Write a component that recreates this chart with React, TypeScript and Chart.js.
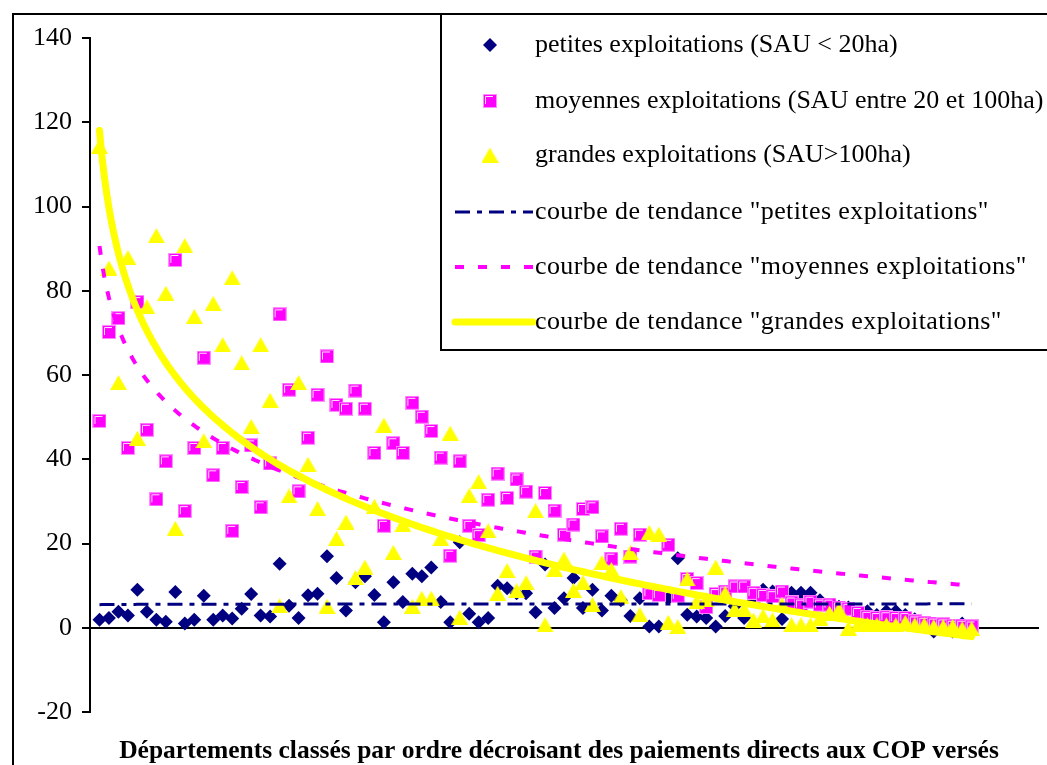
import React, { useEffect, useRef } from 'react';
import { Chart, registerables } from 'chart.js';

Chart.register(...registerables);

// Values per department (rank 1..93)
const petites = [
  1.9, 2.3, 3.8, 2.9, 9.0, 3.8, 1.9, 1.4, 8.5, 1.0,
  1.9, 7.6, 1.9, 2.9, 2.2, 4.5, 8.0, 2.9, 2.7, 15.2,
  5.2, 2.3, 7.7, 8.1, 17.0, 11.8, 4.1, 10.8, 12.2, 7.8,
  1.3, 10.8, 6.1, 12.8, 12.2, 14.3, 6.1, 1.3, 20.3, 3.3,
  1.3, 2.3, 10.0, 9.4, 8.2, 8.2, 3.7, 15.0, 4.7, 7.0,
  11.8, 4.7, 9.0, 4.1, 7.6, 6.5, 2.8, 7.0, 0.3, 0.3,
  7.0, 16.5, 3.1, 2.7, 2.3, 0.3, 2.8, 5.1, 2.3, 6.5,
  9.0, 8.6, 2.1, 8.3, 8.3, 8.3, 6.5, 4.5, 5.0, 4.8,
  3.0, 3.9, 3.0, 3.9, 3.9, 3.0, 2.0, 1.0, -0.9, 0.5,
  -0.9, 1.0, 0.5,
];

const moyennes = [
  49.1, 70.2, 73.5, 42.7, 77.3, 47.0, 30.5, 39.5, 87.3, 27.7,
  42.7, 64.1, 36.2, 42.7, 23.0, 33.4, 43.3, 28.6, 39.0, 74.4,
  56.5, 32.4, 45.1, 55.3, 64.4, 52.9, 52.0, 56.3, 52.0, 41.5,
  24.2, 43.8, 41.5, 53.4, 50.1, 46.7, 40.4, 17.1, 39.5, 24.2,
  22.0, 30.4, 36.6, 30.8, 35.2, 32.3, 16.9, 32.0, 27.8, 22.1,
  24.5, 28.2, 28.6, 21.7, 16.4, 23.5, 16.9, 22.1, 8.2, 7.8,
  19.7, 7.6, 11.6, 10.6, 4.9, 8.0, 8.6, 9.8, 9.8, 8.3,
  7.8, 7.5, 8.6, 6.0, 5.5, 6.2, 5.5, 5.5, 4.8, 4.5,
  3.5, 2.6, 2.3, 2.5, 2.3, 2.3, 1.5, 1.2, 1.0, 0.8,
  0.5, 0.5, 0.3,
];

const grandes = [
  114.3, 85.4, 58.2, 87.9, 45.0, 76.2, 93.1, 79.4, 23.6, 90.7,
  73.9, 44.4, 77.0, 67.2, 83.1, 62.9, 47.8, 67.2, 54.0, 5.2,
  31.3, 58.2, 38.8, 28.3, 5.1, 21.2, 25.1, 11.9, 14.4, 28.8,
  48.1, 17.9, 24.5, 5.1, 7.0, 7.0, 21.2, 46.2, 2.5, 31.4,
  34.7, 23.0, 8.2, 13.6, 8.8, 10.7, 27.8, 0.7, 13.9, 16.3,
  8.9, 10.8, 5.5, 15.5, 13.8, 7.4, 17.9, 3.1, 22.6, 22.2,
  1.3, 0.3, 11.6, 6.2, 6.6, 14.4, 8.2, 4.4, 4.4, 1.8,
  2.8, 1.9, 5.5, 0.7, 0.7, 0.7, 2.3, 3.5, 4.3, -0.1,
  0.7, 0.7, 0.7, 0.7, 0.7, 1.3, 0.7, 0.7, 0.3, 0.3,
  0.3, -0.2, -0.2,
];

const legendLabels = [
  'petites exploitations (SAU < 20ha)',
  'moyennes exploitations (SAU entre 20 et 100ha)',
  'grandes exploitations (SAU>100ha)',
  'courbe de tendance "petites exploitations"',
  'courbe de tendance "moyennes exploitations"',
  'courbe de tendance "grandes exploitations"',
];

const xTitle = 'Départements classés par ordre décroisant des paiements directs aux COP versés';

const Y_MIN = -20;
const Y_MAX = 140;
const Y_STEP = 20;

const NAVY = '#000080';
const MAGENTA = '#FF00FF';
const YELLOW = '#FFFF00';
const SERIF = '"Liberation Serif", "Times New Roman", serif';

const toPoints = (vals: number[]) => vals.map((v, i) => ({ x: i + 1, y: v }));

// Excel-like logarithmic trend line (least squares y = a ln x + b)
function logTrend(vals: number[]) {
  const n = vals.length;
  let sx = 0, sy = 0, sxx = 0, sxy = 0;
  vals.forEach((v, i) => {
    const lx = Math.log(i + 1);
    sx += lx; sy += v; sxx += lx * lx; sxy += lx * v;
  });
  const a = (n * sxy - sx * sy) / (n * sxx - sx * sx);
  const b = (sy - a * sx) / n;
  const pts: { x: number; y: number }[] = [];
  for (let k = 0; k <= (n - 1) * 4; k++) {
    const x = 1 + k / 4;
    pts.push({ x, y: a * Math.log(x) + b });
  }
  return pts;
}

const SQ = 14;
const TRI_W = 17;
const TRI_H = 15;
const DIA_R = 7;

function makeSquare() {
  const c = document.createElement('canvas');
  c.width = SQ; c.height = SQ;
  const g = c.getContext('2d')!;
  g.fillStyle = MAGENTA;
  g.fillRect(0, 0, SQ, SQ);
  g.strokeStyle = '#FF8CFF';
  g.lineWidth = 1;
  g.strokeRect(0.5, 0.5, SQ - 1, SQ - 1);
  g.strokeStyle = '#FFE6FF';
  g.beginPath();
  g.moveTo(2.5, SQ - 4);
  g.lineTo(2.5, 2.5);
  g.lineTo(SQ - 4, 2.5);
  g.stroke();
  return c;
}

function makeTriangle() {
  const c = document.createElement('canvas');
  c.width = TRI_W; c.height = TRI_H;
  const g = c.getContext('2d')!;
  g.fillStyle = YELLOW;
  g.beginPath();
  g.moveTo(0, TRI_H);
  g.lineTo(TRI_W / 2, 0);
  g.lineTo(TRI_W, TRI_H);
  g.closePath();
  g.fill();
  return c;
}

export default function App() {
  const ref = useRef<HTMLCanvasElement | null>(null);

  useEffect(() => {
    if (!ref.current) return;
    const sq = makeSquare();
    const tri = makeTriangle();

    const deco = {
      id: 'deco',
      beforeDraw(chart: any) {
        const ctx = chart.ctx;
        ctx.save();
        ctx.fillStyle = '#fff';
        ctx.fillRect(0, 0, chart.width, chart.height);
        ctx.restore();
      },
      afterDraw(chart: any) {
        const ctx = chart.ctx as CanvasRenderingContext2D;
        ctx.save();
        ctx.strokeStyle = '#000';
        ctx.lineWidth = 2;
        ctx.strokeRect(13, 14, 1200, 900);
        // legend box
        ctx.fillStyle = '#fff';
        ctx.fillRect(441, 14, 800, 336);
        ctx.strokeRect(441, 14, 800, 336);

        const rows = [45, 101, 155, 212, 267, 322];
        const mx = 490;
        // diamond
        ctx.fillStyle = NAVY;
        ctx.beginPath();
        ctx.moveTo(mx - DIA_R, rows[0]);
        ctx.lineTo(mx, rows[0] - DIA_R);
        ctx.lineTo(mx + DIA_R, rows[0]);
        ctx.lineTo(mx, rows[0] + DIA_R);
        ctx.closePath();
        ctx.fill();
        ctx.drawImage(sq, mx - SQ / 2, rows[1] - SQ / 2);
        ctx.drawImage(tri, mx - TRI_W / 2, rows[2] - TRI_H / 2);
        // trend lines
        const lines = [
          { c: NAVY, w: 3, d: [15, 7, 5, 7], cap: 'butt' },
          { c: MAGENTA, w: 4, d: [9, 14], cap: 'butt' },
          { c: YELLOW, w: 7, d: [], cap: 'round' },
        ];
        lines.forEach((l, k) => {
          ctx.strokeStyle = l.c;
          ctx.lineWidth = l.w;
          ctx.setLineDash(l.d);
          ctx.lineCap = l.cap as CanvasLineCap;
          ctx.beginPath();
          ctx.moveTo(455, rows[3 + k]);
          ctx.lineTo(533, rows[3 + k]);
          ctx.stroke();
        });
        ctx.setLineDash([]);
        ctx.fillStyle = '#000';
        ctx.font = `26px ${SERIF}`;
        ctx.textAlign = 'left';
        ctx.textBaseline = 'middle';
        legendLabels.forEach((t, k) => {
          (ctx as any).letterSpacing = k >= 3 ? '0.4px' : '0px';
          ctx.fillText(t, 535, rows[k]);
        });
        (ctx as any).letterSpacing = '0px';

        // x axis title
        ctx.font = `bold 25.5px ${SERIF}`;
        ctx.textAlign = 'center';
        ctx.textBaseline = 'alphabetic';
        ctx.fillText(xTitle, 559, 758);
        ctx.restore();
      },
    };

    const chart = new Chart(ref.current, {
      type: 'scatter',
      data: {
        datasets: [
          {
            label: 'tendance grandes',
            data: logTrend(grandes),
            showLine: true,
            borderColor: YELLOW,
            borderWidth: 7,
            borderCapStyle: 'round',
            pointRadius: 0,
            order: 0,
          },
          {
            label: 'tendance moyennes',
            data: logTrend(moyennes),
            showLine: true,
            borderColor: MAGENTA,
            borderWidth: 4,
            borderDash: [9, 14],
            pointRadius: 0,
            order: 1,
          },
          {
            label: 'tendance petites',
            data: logTrend(petites),
            showLine: true,
            borderColor: NAVY,
            borderWidth: 3,
            borderDash: [15, 7, 5, 7],
            pointRadius: 0,
            order: 2,
          },
          {
            label: 'grandes',
            data: toPoints(grandes),
            pointStyle: tri,
            pointRadius: 8,
            order: 3,
          },
          {
            label: 'moyennes',
            data: toPoints(moyennes),
            pointStyle: sq,
            pointRadius: 7,
            order: 4,
          },
          {
            label: 'petites',
            data: toPoints(petites),
            pointStyle: 'rectRot',
            pointRadius: DIA_R,
            backgroundColor: NAVY,
            borderColor: NAVY,
            borderWidth: 0,
            order: 5,
          },
        ] as any,
      },
      plugins: [deco],
      options: {
        responsive: false,
        devicePixelRatio: 1,
        animation: false,
        events: [],
        layout: { padding: { left: 0, right: 7, top: 38, bottom: 53 } },
        plugins: { legend: { display: false }, tooltip: { enabled: false }, title: { display: false } },
        scales: {
          x: {
            type: 'linear',
            min: 0,
            max: 100,
            position: { y: 0 } as any,
            ticks: { display: false },
            grid: { display: false },
            border: { display: true, color: '#000', width: 2 },
            afterFit: (s: any) => { s.height = 0; },
          },
          y: {
            type: 'linear',
            min: Y_MIN,
            max: Y_MAX,
            ticks: {
              stepSize: Y_STEP,
              color: '#000',
              padding: 10,
              font: { family: SERIF, size: 26 },
            },
            grid: {
              display: true,
              drawOnChartArea: false,
              drawTicks: true,
              tickLength: 8,
              color: '#000',
              lineWidth: 2,
            },
            border: { display: true, color: '#000', width: 2 },
            afterFit: (s: any) => { s.width = 90; },
          },
        },
      } as any,
    });
    return () => chart.destroy();
  }, []);

  return (
    <div style={{ position: 'fixed', left: 0, top: 0, width: 1047, height: 765, overflow: 'hidden', background: '#fff' }}>
      <canvas ref={ref} width={1047} height={765} style={{ display: 'block', width: 1047, height: 765 }} />
    </div>
  );
}
